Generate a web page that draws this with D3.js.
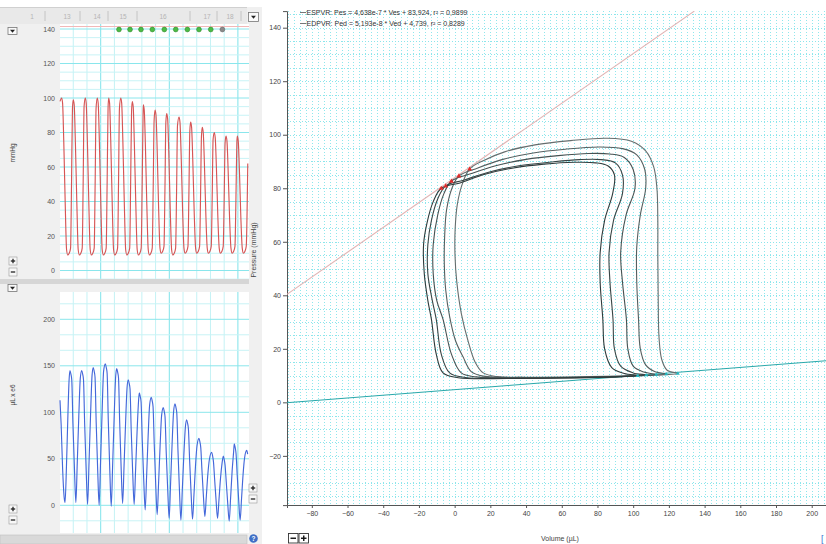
<!DOCTYPE html>
<html><head><meta charset="utf-8">
<script src="https://cdn.jsdelivr.net/npm/d3@7"></script>
<style>
body{margin:0;background:#fff;}
svg{display:block;font-family:"Liberation Sans",Arial,sans-serif;}
</style></head><body>
<svg id="c" width="826" height="544"></svg>
<script>
// ---------------- DATA ----------------
// Left panel: LV pressure trace (mmHg), times in ms
const pressPeakTimes = [14,113,215,317,414,517,615,709,809,908,1013,1112,1211,1313,1413,1509];
const pressPhase = [0,8,18,30,42,52,64,76,84,92];
const pressBeats = [
  [100,97,75,40,12,9,10,13,50,94],
  [99,96,74,40,12,9,10,13,50,95],
  [100,97,75,40,12,9,10,13,50,94],
  [100,97,75,40,12,9,10,13,50,94],
  [100,97,75,40,12,9,10,13,50,94],
  [100,97,75,40,12,9,10,13,49,92],
  [98,95,73,39,12,9,10,13,48,90],
  [96,93,72,38,12,9,10,13,47,87],
  [93,90,70,37,13,10,11,14,46,86],
  [91,88,68,36,12,9,10,13,45,84],
  [89,86,67,36,13,10,11,14,44,81],
  [86,83,64,34,13,10,11,14,42,78],
  [83,80,62,33,13,10,11,14,41,76],
  [80,77,60,32,13,10,11,14,40,74],
  [78,75,58,31,13,10,11,14,40,74],
  [78,75,58,31,13,10,11,14]
];
const pressHead = [[0,98]];
const pressTail = [[1598,62]];
const pressTicks = [0,20,40,60,80,100,120,140];

// Left panel: LV volume trace (µL x e6)
const volPeakTimes = [85,185,283,386,483,581,675,777,879,979,1078,1183,1291,1390,1483,1589];
const volPhase = [0,8,15,25,38,50,62,75,88];
const volBeats = [
  [145,141,135,88,39,3,46,96,137],
  [145,141,135,87,37,1,46,97,140],
  [148,144,138,89,37,0,46,99,144],
  [152,148,142,91,37,-1,43,95,139],
  [147,143,137,89,38,2,42,88,127],
  [135,131,125,81,34,1,37,79,113],
  [121,117,111,70,26,-5,31,74,108],
  [116,112,106,66,21,-10,24,64,97],
  [105,101,95,57,16,-14,23,66,101],
  [109,105,99,59,15,-16,17,54,84],
  [92,88,82,49,12,-15,11,42,64],
  [72,68,62,38,9,-12,9,33,49],
  [57,53,47,28,4,-14,6,29,45],
  [53,49,43,25,1,-17,8,37,58],
  [66,62,56,33,5,-16,7,33,51],
  [59,55]
];
const volHead = [[0,113],[10,86],[22,40],[35,9],[43,3],[55,42],[68,100],[77,134]];
const volTicks = [0,50,100,150,200];

// beat markers along the top of the pressure strip
const markerTimes = [502,596,689,786,888,985,1084,1183,1283,1382];
const markerSelected = [1,1,1,1,1,1,1,1,1,0];
const headerLabels = ["1","13","14","15","16","17","18"];

// Right panel: PV loops [volume µL, pressure mmHg]
const loop1 = [[125,10.8],[119,12],[116,16],[114.5,24],[114,40],[113.8,55],[113.8,68],[113.3,80],[111.5,88],[107,94],[99,97.6],[85,98.7],[65,97.8],[45,96.2],[28,93.6],[16,90.3],[8.4,87.2],[4.5,82],[1.5,74],[0.3,65],[0.2,55],[1.2,45],[3.8,33],[7.5,23],[11.5,15],[16,11],[24,9.6],[45,9.4],[75,9.6],[105,10.1]];
const loop2 = [[118.5,10.6],[112,11.5],[107,14],[104,20],[103,31],[102,45],[102,58],[104,70],[107,80],[106.5,87],[102,92.5],[94,94.8],[81,95.4],[62,94.6],[44,93.2],[27,90.8],[13,87.6],[2.4,84.6],[-1.5,80],[-4.5,72],[-5.6,62],[-5.8,52],[-5,42],[-2.8,32],[0.5,23],[4.7,17],[9.3,11.5],[16,9.8],[40,9.3],[70,9.4],[100,9.9]];
const loop3 = [[112.9,10.4],[106,11.3],[100,13.5],[97,20],[96.2,31],[94,45],[93,56],[96,70],[101,80],[100,87],[95,91.5],[87,92.8],[75,93],[58,92.2],[40,90.8],[23,88.4],[9,85.4],[-1.8,82.7],[-6,78],[-9.5,70],[-12,59],[-12,48],[-10,38],[-6.5,31],[-1.8,18],[3.7,11],[12,9.5],[40,9.1],[70,9.3],[98,9.8]];
const loop4 = [[107.3,10.2],[100,11],[93,13.5],[89.5,20],[88.7,31],[87,45],[86.5,56],[89,68],[94,78],[94,85],[90,89.5],[82,90.7],[70,90.7],[54,89.8],[36,88.4],[20,86.2],[5,83],[-5,80.9],[-9.5,76],[-13,68],[-15,59],[-15,48],[-12.5,38],[-10.3,31],[-7.5,18],[-2.8,11],[6,9.3],[35,9],[65,9.2],[92,9.6]];
const loop5 = [[102.5,10],[95,10.8],[88,13],[84,20],[83,31],[81.5,45],[81.5,56],[84,68],[88.5,78],[89.5,85],[86,88.3],[79,89.5],[67,89.7],[50,89],[33,87.6],[17,85.2],[3,82],[-7.5,80],[-12,75],[-15.5,67],[-17.4,59],[-17,48],[-15,38],[-13,31],[-10.3,18],[-6.5,11],[2,9.2],[30,8.9],[60,9.1],[88,9.5]];
const pvLoops = [loop1,loop2,loop3,loop4,loop5];
const esPoints = [[8.4,87.2],[2.4,84.6],[-1.8,82.7],[-5,80.9],[-7.5,80]];
const edPoints = [[125,10.8],[118.5,10.6],[112.9,10.4],[107.3,10.2],[102.5,10]];
const espvr = {slope:0.4638, intercept:83.924};
const edpvr = {slope:0.05193, intercept:4.739};
const legendLabels = [
  "ESPVR: Pes = 4,638e-7 * Ves + 83,924, r\u00b2 = 0,9899",
  "EDPVR: Ped = 5,193e-8 * Ved + 4,739, r\u00b2 = 0,8289"
];
const pTicks = [-20,0,20,40,60,80,100,120,140];
const vTicks = [-80,-60,-40,-20,0,20,40,60,80,100,120,140,160,180,200];

// ---------------- DRAW ----------------
const svg = d3.select("#c");
const FS = 7;

// left panel background
svg.append("rect").attr("x",0).attr("y",0).attr("width",262).attr("height",544).attr("fill","#f0f0f0");
svg.append("rect").attr("x",0).attr("y",0).attr("width",262).attr("height",7).attr("fill","#ffffff");

// header band
svg.append("rect").attr("x",0).attr("y",7).attr("width",247).attr("height",17).attr("fill","#e9e9e9");
svg.append("line").attr("x1",0).attr("x2",247).attr("y1",7.5).attr("y2",7.5).attr("stroke","#d0d0d0");
const hdrPos = [32,67,97,123,163,207,230];
const hdrSep = [45,80,108,137,190,217,241];
headerLabels.forEach((t,i)=>{
  svg.append("text").attr("x",hdrPos[i]).attr("y",19).attr("text-anchor","middle")
    .attr("font-size",6.5).attr("fill","#b4b4b4").text(t);
});
hdrSep.forEach(x=>svg.append("line").attr("x1",x).attr("x2",x).attr("y1",11).attr("y2",21).attr("stroke","#c4c4c4"));

function dropdown(x,y,w,h){
  svg.append("rect").attr("x",x).attr("y",y).attr("width",w).attr("height",h).attr("fill","#fafafa").attr("stroke","#777").attr("stroke-width",0.8);
  const cx=x+w/2, cy=y+h/2;
  svg.append("path").attr("d",`M${cx-2.5},${cy-1.3}L${cx+2.5},${cy-1.3}L${cx},${cy+1.7}Z`).attr("fill","#222");
}
dropdown(248.5,12.5,10,9);
dropdown(8,27.5,9,7);
dropdown(8,284.5,9,7);

function pmButton(x,y,sym){
  svg.append("rect").attr("x",x).attr("y",y).attr("width",8).attr("height",8).attr("fill","#f8f8f8").attr("stroke","#999").attr("stroke-width",0.6);
  svg.append("line").attr("x1",x+1.8).attr("x2",x+6.2).attr("y1",y+4).attr("y2",y+4).attr("stroke","#222").attr("stroke-width",1.3);
  if(sym==="+") svg.append("line").attr("x1",x+4).attr("x2",x+4).attr("y1",y+1.8).attr("y2",y+6.2).attr("stroke","#222").attr("stroke-width",1.3);
}

// ---- time scale
const xT = d3.scaleLinear().domain([0,1600]).range([60,248]);

// ---- pressure strip
const yPr = d3.scaleLinear().domain([0,140]).range([270.5,29]);
const strip1 = {y0:24,y1:279};
svg.append("rect").attr("x",60).attr("y",strip1.y0).attr("width",189).attr("height",strip1.y1-strip1.y0).attr("fill","#fff");
const vGridX = d3.range(-3,12).map(k=>({x:100.7+k*13.72, major:k%5===0})).filter(d=>d.x>60&&d.x<249);
function vGrid(y0,y1){
  vGridX.forEach(d=>svg.append("line").attr("x1",d.x).attr("x2",d.x).attr("y1",y0).attr("y2",y1)
    .attr("stroke",d.major?"#7fe3ea":"#c4f2f5").attr("stroke-width",1));
}
vGrid(strip1.y0,strip1.y1);
d3.range(-5,145,5).forEach(v=>{
  const y=yPr(v);
  svg.append("line").attr("x1",60).attr("x2",249).attr("y1",y).attr("y2",y)
    .attr("stroke",v%20===0?"#8ae6ec":"#c8f3f6").attr("stroke-width",1);
});
pressTicks.forEach(v=>svg.append("text").attr("x",55).attr("y",yPr(v)+2.5).attr("text-anchor","end")
  .attr("font-size",FS).attr("fill","#555").text(v));
svg.append("text").attr("transform",`translate(15,153) rotate(-90)`).attr("text-anchor","middle")
  .attr("font-size",6.5).attr("fill","#444").text("mmHg");
// top pink line and markers
svg.append("line").attr("x1",60).attr("x2",249).attr("y1",26.5).attr("y2",26.5).attr("stroke","#f2b8b8").attr("stroke-width",1);
markerTimes.forEach((t,i)=>svg.append("circle").attr("cx",xT(t)).attr("cy",29.5).attr("r",2.4)
  .attr("fill",markerSelected[i]?"#4cbb44":"#8a8a8a").attr("stroke",markerSelected[i]?"#2e8a2a":"#666").attr("stroke-width",0.6));

let pressPts = pressHead.slice();
pressBeats.forEach((b,i)=>b.forEach((v,j)=>pressPts.push([pressPeakTimes[i]+pressPhase[j],v])));
pressPts = pressPts.concat(pressTail);
svg.append("path").datum(pressPts)
  .attr("d",d3.line().x(d=>xT(d[0])).y(d=>yPr(d[1])).curve(d3.curveMonotoneX))
  .attr("fill","none").attr("stroke","#d65555").attr("stroke-width",1.15);
pmButton(9,257,"+"); pmButton(9,268,"-");

// separator
svg.append("rect").attr("x",0).attr("y",279).attr("width",249).attr("height",5).attr("fill","#d6d6d6");

// ---- volume strip
const yVo = d3.scaleLinear().domain([0,200]).range([505.3,319.3]);
const strip2 = {y0:292,y1:533};
svg.append("rect").attr("x",60).attr("y",strip2.y0).attr("width",189).attr("height",strip2.y1-strip2.y0).attr("fill","#fff");
vGrid(strip2.y0,strip2.y1);
d3.range(-1,14).forEach(k=>{
  const v=k*50/3, y=yVo(v);
  if(y<strip2.y0||y>strip2.y1) return;
  svg.append("line").attr("x1",60).attr("x2",249).attr("y1",y).attr("y2",y)
    .attr("stroke",k%3===0?"#8ae6ec":"#c8f3f6").attr("stroke-width",1);
});
volTicks.forEach(v=>svg.append("text").attr("x",55).attr("y",yVo(v)+2.5).attr("text-anchor","end")
  .attr("font-size",FS).attr("fill","#555").text(v));
svg.append("text").attr("transform",`translate(15,395) rotate(-90)`).attr("text-anchor","middle")
  .attr("font-size",6.5).attr("fill","#444").text("\u00b5L x e6");
let volPts = volHead.slice();
volBeats.forEach((b,i)=>b.forEach((v,j)=>volPts.push([volPeakTimes[i]+volPhase[j],v])));
svg.append("path").datum(volPts)
  .attr("d",d3.line().x(d=>xT(d[0])).y(d=>yVo(d[1])).curve(d3.curveMonotoneX))
  .attr("fill","none").attr("stroke","#4468da").attr("stroke-width",1.15);
pmButton(9,505,"+"); pmButton(9,516,"-");
pmButton(249,484,"+"); pmButton(249,495,"-");

// bottom scrollbar + help icon
svg.append("rect").attr("x",0).attr("y",535).attr("width",247).attr("height",9).attr("fill","#d9d9d9").attr("stroke","#c0c0c0").attr("stroke-width",0.6);
svg.append("circle").attr("cx",253.5).attr("cy",538.5).attr("r",4.3).attr("fill","#3f6fc6");
svg.append("text").attr("x",253.5).attr("y",541).attr("text-anchor","middle").attr("font-size",6.5).attr("font-weight","bold").attr("fill","#fff").text("?");

// ---------------- RIGHT PANEL ----------------
svg.append("rect").attr("x",262).attr("y",0).attr("width",564).attr("height",544).attr("fill","#fff");
const xV = d3.scaleLinear().domain([-93.9,208]).range([287,826]);
const yP = d3.scaleLinear().domain([-38.4,146.2]).range([505.1,11.1]);
const gGrid = svg.append("g");
const vStep = 20/6;
d3.range(Math.ceil(-93.9/vStep), Math.floor(208/vStep)+1).forEach(k=>{
  const x = Math.round(xV(k*vStep))+0.5;
  gGrid.append("line").attr("x1",x).attr("x2",x).attr("y1",11).attr("y2",505)
    .attr("stroke","#90e7ed").attr("stroke-width",1).attr("stroke-dasharray","1,2");
});
d3.range(-35,147,5).forEach(v=>{
  const y=Math.round(yP(v))+0.5;
  gGrid.append("line").attr("x1",287).attr("x2",826).attr("y1",y).attr("y2",y)
    .attr("stroke","#8be5eb").attr("stroke-width",1).attr("stroke-dasharray","1,2");
});

// axes
const yAxis = d3.axisLeft(yP).tickValues(pTicks).tickSize(4).tickPadding(2);
const gy = svg.append("g").attr("transform","translate(287,0)").call(yAxis);
const xAxis = d3.axisBottom(xV).tickValues(vTicks).tickSize(3).tickPadding(3);
const gx = svg.append("g").attr("transform","translate(0,505)").call(xAxis);
[gy,gx].forEach(g=>{
  g.selectAll("text").attr("font-size",FS).attr("fill","#444").attr("font-family","Liberation Sans,Arial,sans-serif");
  g.selectAll("line").attr("stroke","#555");
  g.select(".domain").attr("stroke","#555");
});
svg.append("text").attr("x",560).attr("y",541).attr("text-anchor","middle").attr("font-size",FS).attr("fill","#444").text("Volume (\u00b5L)");
svg.append("text").attr("transform","translate(256,250) rotate(-90)").attr("text-anchor","middle").attr("font-size",FS).attr("fill","#444").text("Pressure (mmHg)");

// clip
svg.append("clipPath").attr("id","pc").append("rect").attr("x",287).attr("y",11).attr("width",539).attr("height",494);
const plot = svg.append("g").attr("clip-path","url(#pc)");

// regression lines
const espvrEnd = (146.2-espvr.intercept)/espvr.slope;
plot.append("line").attr("x1",xV(-93.9)).attr("y1",yP(espvr.intercept+espvr.slope*-93.9))
  .attr("x2",xV(espvrEnd)).attr("y2",yP(146.2)).attr("stroke","#e2b4b4").attr("stroke-width",1.1);
plot.append("line").attr("x1",xV(-93.9)).attr("y1",yP(edpvr.intercept+edpvr.slope*-93.9))
  .attr("x2",xV(208)).attr("y2",yP(edpvr.intercept+edpvr.slope*208)).attr("stroke","#2aa8aa").attr("stroke-width",1);

// loops
const loopLine = d3.line().x(d=>xV(d[0])).y(d=>yP(d[1])).curve(d3.curveCatmullRomClosed.alpha(0.5));
const loopColors = ["#666e6e","#566060","#475252","#3a4646","#2f3b3b"];
pvLoops.forEach((L,i)=>plot.append("path").datum(L).attr("d",loopLine)
  .attr("fill","none").attr("stroke",loopColors[i]).attr("stroke-width",1.1));

// ES / ED markers
esPoints.forEach(p=>{
  const x=xV(p[0]), y=yP(p[1]);
  plot.append("path").attr("d",`M${x},${y-2.6}L${x+2.4},${y+1.6}L${x-2.4},${y+1.6}Z`).attr("fill","#e02a2a");
});
edPoints.forEach(p=>{
  const x=xV(p[0]), y=yP(p[1]);
  plot.append("path").attr("d",`M${x},${y-2}L${x+2},${y+1.3}L${x-2},${y+1.3}Z`).attr("fill","#22b8c0");
});

// legend
const legStroke = ["#777","#777"];
legendLabels.forEach((t,i)=>{
  const y = 15+i*11;
  svg.append("line").attr("x1",300).attr("x2",306).attr("y1",y-2.5).attr("y2",y-2.5).attr("stroke",legStroke[i]).attr("stroke-width",1);
  svg.append("text").attr("x",306.5).attr("y",y).attr("font-size",FS).attr("fill","#333").text(t);
});

// bottom controls
function boxBtn(x,y,sym){
  svg.append("rect").attr("x",x).attr("y",y).attr("width",9.5).attr("height",9.5).attr("fill","#fff").attr("stroke","#333").attr("stroke-width",0.9);
  svg.append("line").attr("x1",x+2).attr("x2",x+7.5).attr("y1",y+4.75).attr("y2",y+4.75).attr("stroke","#111").attr("stroke-width",1.4);
  if(sym==="+") svg.append("line").attr("x1",x+4.75).attr("x2",x+4.75).attr("y1",y+2).attr("y2",y+7.5).attr("stroke","#111").attr("stroke-width",1.4);
}
boxBtn(288.5,533.5,"-"); boxBtn(299,533.5,"+");
svg.append("text").attr("x",821).attr("y",542).attr("font-size",9).attr("fill","#3a6fd0").text("[");
</script>
</body></html>
